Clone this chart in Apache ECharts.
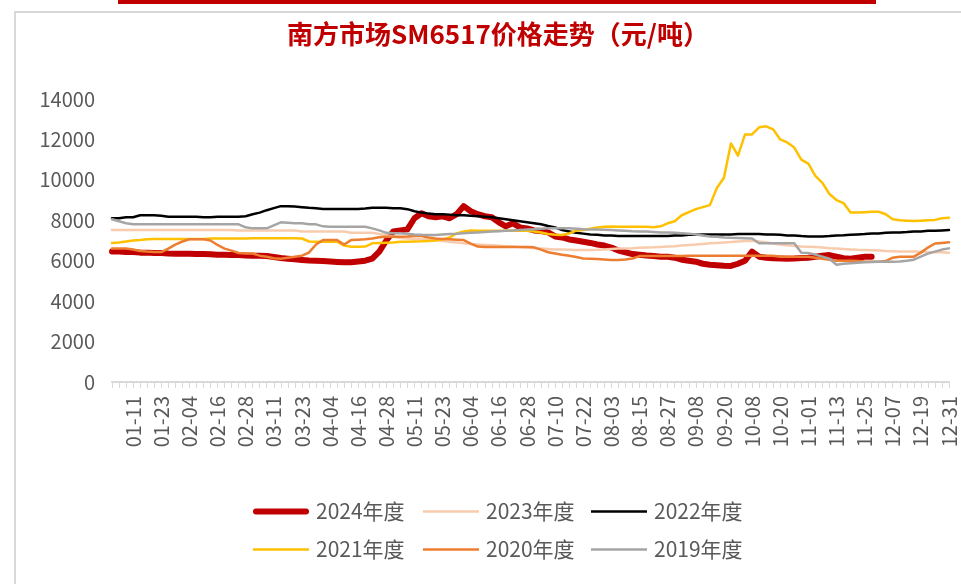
<!DOCTYPE html>
<html>
<head>
<meta charset="utf-8">
<title>南方市场SM6517价格走势</title>
<script src="https://cdn.jsdelivr.net/npm/echarts@6.0.0/dist/echarts.min.js"></script>
<style>
    html, body { margin: 0; padding: 0; background: #fff; }
    #main { width: 961px; height: 584px; }
</style>
</head>
<body>
<div id="main"></div>
<script>
// 日期(每3天取一个点), 标签每4个显示一次
var categories = [
    '01-02','01-05','01-08','01-11','01-14','01-17','01-20','01-23','01-26','01-29',
    '02-01','02-04','02-07','02-10','02-13','02-16','02-19','02-22','02-25','02-28',
    '03-02','03-05','03-08','03-11','03-14','03-17','03-20','03-23','03-26','03-29',
    '04-01','04-04','04-07','04-10','04-13','04-16','04-19','04-22','04-25','04-28',
    '05-02','05-05','05-08','05-11','05-14','05-17','05-20','05-23','05-26','05-29',
    '06-01','06-04','06-07','06-10','06-13','06-16','06-19','06-22','06-25','06-28',
    '07-01','07-04','07-07','07-10','07-13','07-16','07-19','07-22','07-25','07-28',
    '07-31','08-03','08-06','08-09','08-12','08-15','08-18','08-21','08-24','08-27',
    '08-30','09-02','09-05','09-08','09-11','09-14','09-17','09-20','09-23','09-26',
    '09-29','10-08','10-11','10-14','10-17','10-20','10-23','10-26','10-29','11-01',
    '11-04','11-07','11-10','11-13','11-16','11-19','11-22','11-25','11-28','12-01',
    '12-04','12-07','12-10','12-13','12-16','12-19','12-22','12-25','12-28','12-31'
];

var yTicks = [0, 2000, 4000, 6000, 8000, 10000, 12000, 14000];

var names = ['2024年度', '2023年度', '2022年度', '2021年度', '2020年度', '2019年度'];

var y2024 = [
    6450,6450,6430,6430,6400,6400,6380,6380,6360,6350,
    6350,6340,6330,6330,6320,6300,6300,6280,6280,6260,
    6250,6240,6230,6180,6130,6100,6070,6040,6010,6000,
    5980,5960,5940,5920,5920,5960,6000,6100,6450,7000,
    7450,7500,7550,8100,8350,8200,8150,8200,8100,8300,
    8700,8450,8300,8200,8150,7900,7700,7850,7650,7600,
    7500,7470,7400,7200,7150,7050,7000,6940,6880,6800,
    6750,6650,6500,6420,6330,6300,6260,6230,6200,6200,
    6150,6050,6000,5950,5850,5800,5780,5750,5740,5850,
    6000,6450,6200,6150,6120,6110,6100,6110,6130,6150,
    6200,6250,6280,6200,6120,6100,6150,6200,6200,null,
    null,null,null,null,null,null,null,null,null,null
];

var y2023 = [
    7520,7520,7520,7520,7520,7520,7520,7520,7520,7520,
    7520,7520,7520,7520,7520,7520,7520,7520,7500,7500,
    7500,7500,7500,7500,7500,7500,7500,7450,7450,7450,
    7450,7450,7450,7450,7380,7380,7380,7380,7320,7260,
    7200,7120,7100,7080,7060,7040,7020,6980,6940,6900,
    6860,6830,6800,6780,6760,6740,6720,6700,6680,6650,
    6620,6600,6580,6560,6550,6540,6530,6530,6530,6540,
    6560,6580,6600,6610,6620,6640,6650,6660,6680,6700,
    6720,6750,6780,6800,6830,6860,6880,6900,6920,6950,
    6980,6990,6950,6900,6850,6800,6760,6730,6700,6690,
    6680,6650,6620,6600,6580,6560,6540,6530,6520,6500,
    6480,6470,6460,6450,6450,6440,6430,6420,6420,6400
];

var y2022 = [
    8100,8100,8150,8150,8250,8250,8250,8220,8180,8180,
    8180,8180,8180,8150,8150,8180,8180,8180,8180,8200,
    8300,8380,8500,8600,8700,8700,8680,8650,8620,8600,
    8560,8560,8560,8560,8560,8560,8580,8620,8620,8620,
    8600,8600,8550,8450,8380,8330,8300,8300,8280,8250,
    8250,8220,8200,8180,8150,8100,8050,8000,7950,7900,
    7850,7800,7720,7650,7520,7450,7380,7340,7300,7280,
    7250,7250,7220,7220,7220,7220,7220,7220,7220,7220,
    7250,7250,7280,7280,7300,7300,7300,7300,7300,7320,
    7320,7320,7320,7300,7300,7280,7250,7250,7220,7200,
    7200,7200,7220,7250,7260,7280,7300,7320,7350,7350,
    7380,7400,7400,7420,7450,7450,7480,7480,7500,7520
];

var y2021 = [
    6880,6900,6950,7000,7020,7060,7080,7080,7080,7080,
    7080,7080,7080,7080,7100,7100,7100,7100,7100,7100,
    7110,7110,7110,7110,7110,7110,7110,7100,6950,6940,
    6940,6940,6940,6750,6690,6690,6700,6860,6880,6890,
    6900,6940,6940,6950,6960,6980,7000,7050,7150,7350,
    7450,7490,7480,7480,7480,7480,7480,7480,7480,7480,
    7440,7400,7320,7280,7270,7350,7490,7520,7580,7640,
    7680,7690,7680,7680,7680,7680,7680,7650,7700,7850,
    7950,8250,8400,8550,8650,8750,9600,10100,11800,11200,
    12250,12250,12600,12650,12500,12000,11850,11600,11000,10800,
    10200,9850,9300,9000,8850,8380,8380,8400,8420,8420,
    8300,8050,8000,7980,7960,7980,8000,8020,8100,8130
];

var y2020 = [
    6600,6600,6600,6550,6480,6450,6430,6430,6600,6800,
    6950,7060,7060,7060,7000,6780,6600,6500,6380,6360,
    6360,6250,6200,6120,6100,6150,6200,6250,6400,6800,
    7020,7020,7020,6800,7020,7040,7060,7100,7160,7190,
    7190,7190,7200,7220,7220,7150,7100,7080,7060,7040,
    7020,6850,6700,6680,6680,6680,6680,6680,6680,6680,
    6660,6550,6420,6360,6300,6250,6180,6110,6100,6080,
    6060,6040,6040,6060,6110,6230,6230,6230,6230,6230,
    6230,6230,6250,6250,6250,6250,6250,6250,6250,6250,
    6250,6250,6250,6250,6250,6200,6200,6200,6200,6200,
    6150,6100,6050,6000,6000,6000,5980,5960,5950,5950,
    5980,6150,6200,6200,6200,6400,6650,6850,6880,6910
];

var y2019 = [
    8050,7950,7850,7800,7800,7800,7800,7800,7800,7800,
    7800,7800,7800,7800,7800,7800,7800,7800,7800,7650,
    7600,7600,7600,7750,7900,7880,7850,7850,7800,7800,
    7700,7680,7680,7680,7680,7680,7680,7600,7500,7380,
    7360,7360,7340,7300,7280,7270,7270,7300,7320,7330,
    7360,7380,7400,7420,7440,7460,7480,7500,7520,7540,
    7560,7580,7600,7600,7600,7600,7580,7560,7550,7540,
    7530,7520,7500,7480,7460,7450,7440,7420,7400,7390,
    7380,7360,7340,7300,7250,7200,7180,7150,7130,7120,
    7110,7100,6860,6860,6860,6860,6860,6860,6400,6380,
    6300,6200,6100,5800,5850,5880,5900,5920,5940,5950,
    5950,5950,5960,6000,6050,6200,6350,6450,6550,6610
];

(function(){
    var chart = echarts.init(document.getElementById('main'), null, {renderer: 'canvas'});
    var font = "'Noto Sans CJK SC', 'Noto Sans', sans-serif";
    var gray = '#595959';
    //图例用线段图标, 粗线和细线
    var thickIcon = 'path://M3,0 L53,0 A3,3 0 0 1 53,6 L3,6 A3,3 0 0 1 3,0 Z';
    var thinIcon = 'path://M0,0 L56,0 L56,2.5 L0,2.5 Z';

    function lineSeries(name, data, color, width){
        return {
            name: name,
            type: 'line',
            data: data,
            symbol: 'none',
            smooth: false,
            lineStyle: {color: color, width: width, cap: 'round', join: 'round'},
            itemStyle: {color: color},
            emphasis: {disabled: true}
        };
    }

    function legendCol(left, data){
        return {
            orient: 'vertical',
            left: left,
            top: 501,
            padding: 0,
            itemGap: 17,
            itemWidth: 56,
            itemHeight: 14,
            symbolKeepAspect: true,
            selectedMode: false,
            data: data,
            textStyle: {color: gray, fontSize: 21, fontFamily: font, padding: [0, 0, 0, 2]}
        };
    }

    var option = {
        animation: false,
        backgroundColor: '#fff',
        title: {
            text: '南方市场SM6517价格走势（元/吨）',
            left: 498,
            top: 21,
            padding: 0,
            textAlign: 'center',
            textStyle: {color: '#C00000', fontSize: 26, fontWeight: 'bold', fontFamily: font}
        },
        graphic: [
            {type: 'rect', z: -10, shape: {x: 15, y: 12, width: 980, height: 600},
                style: {fill: null, stroke: '#d9d9d9', lineWidth: 2}},
            {type: 'rect', z: -10, shape: {x: 118, y: 0, width: 758, height: 4},
                style: {fill: '#C00000'}}
        ],
        legend: [
            legendCol(253, [{name: names[0], icon: thickIcon}, {name: names[3], icon: thinIcon}]),
            legendCol(423, [{name: names[1], icon: thinIcon}, {name: names[4], icon: thinIcon}]),
            legendCol(591, [{name: names[2], icon: thinIcon}, {name: names[5], icon: thinIcon}])
        ],
        grid: {left: 112, right: 12, top: 99, bottom: 202, outerBoundsMode: 'none'},
        xAxis: {
            type: 'category',
            boundaryGap: false,
            data: categories,
            axisLine: {lineStyle: {color: '#d9d9d9', width: 2}},
            axisTick: {show: true, interval: 0, length: 6, lineStyle: {color: '#d9d9d9', width: 1}},
            axisLabel: {
                interval: function(idx){ return idx % 4 === 3; },
                rotate: 90,
                margin: 14,
                color: gray,
                fontSize: 20,
                fontFamily: font
            },
            splitLine: {show: false}
        },
        yAxis: {
            type: 'value',
            min: yTicks[0],
            max: yTicks[yTicks.length - 1],
            interval: 2000,
            axisLine: {show: false},
            axisTick: {show: false},
            splitLine: {show: false},
            axisLabel: {
                margin: 17, color: gray, fontSize: 20, fontFamily: font,
                formatter: function(v){ return String(v); }
            }
        },
        series: [
            lineSeries(names[0], y2024, '#C00000', 6),
            lineSeries(names[1], y2023, '#F8CBAD', 2.5),
            lineSeries(names[2], y2022, '#000000', 2.5),
            lineSeries(names[3], y2021, '#FFC000', 2.5),
            lineSeries(names[4], y2020, '#ED7D31', 2.5),
            lineSeries(names[5], y2019, '#A5A5A5', 2.5)
        ]
    };
    chart.setOption(option);
})();
</script>
</body>
</html>
